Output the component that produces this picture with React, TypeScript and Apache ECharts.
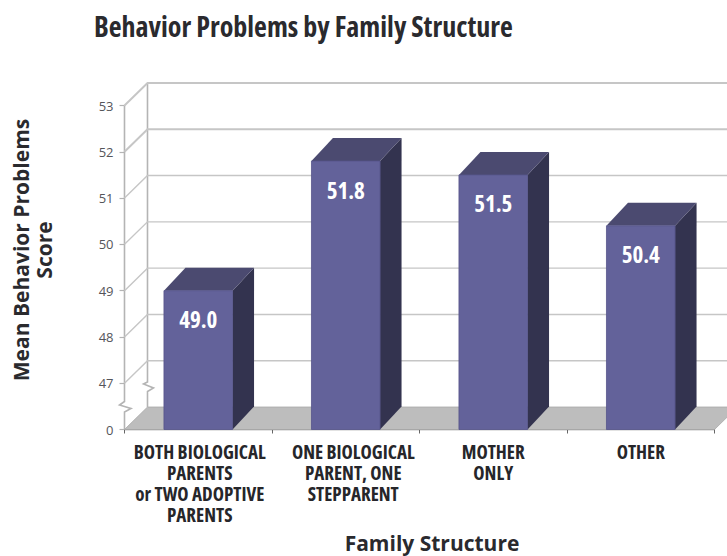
import React, { useEffect, useRef } from "react";
import * as echarts from "echarts";

const titleText = "Behavior Problems by Family Structure";
const yAxisName = "Mean Behavior Problems\nScore";
const xAxisName = "Family Structure";
const categories = [
  "BOTH BIOLOGICAL\nPARENTS\nor TWO ADOPTIVE\nPARENTS",
  "ONE BIOLOGICAL\nPARENT, ONE\nSTEPPARENT",
  "MOTHER\nONLY",
  "OTHER",
];
const categoryShift = [1.5, 7.5, 0, 0];
const barValues = [49.0, 51.8, 51.5, 50.4];
const gridValues = [47, 48, 49, 50, 51, 52, 53];
const axisFloor = 46; // the axis is broken: the floor is labelled 0
const floorLabel = "0";

const NARROW = '"CondensedMark", "Open Sans", sans-serif';
const WALL_DX = 23;
const WALL_DY = 22.5;
const BAR_DX = 21.5;
const BAR_DY = 23;
const GRID_COLOR = "#c6c6c6";

function renderGrid(params: any, api: any) {
  const rect = params.coordSys;
  const y = api.coord([0, api.value(1)])[1];
  const left = rect.x;
  const right = rect.x + rect.width + WALL_DX;
  const isTop = api.value(1) >= 52;
  return {
    type: "group",
    children: [
      {
        type: "polyline",
        shape: { points: [[left, y], [left + WALL_DX, y - WALL_DY], [right, y - WALL_DY]] },
        style: { stroke: GRID_COLOR, lineWidth: isTop ? 2 : 1.4, fill: null },
      },
    ],
  };
}

function renderFrame(params: any, api: any) {
  const rect = params.coordSys;
  const floorY = api.coord([0, axisFloor])[1];
  const topY = api.coord([0, 53])[1];
  const left = rect.x;
  const right = rect.x + rect.width;
  const backX = left + WALL_DX;
  const backY = floorY - WALL_DY;
  return {
    type: "group",
    children: [
      {
        type: "polygon",
        shape: { points: [[left, floorY], [backX, backY], [right + WALL_DX, backY], [right, floorY]] },
        style: { fill: "#bdbdbd", stroke: "#a8a8a8", lineWidth: 0.8 },
      },
      {
        type: "polyline",
        shape: {
          points: [
            [left, topY], [left, floorY - 28], [left - 5, floorY - 24.5],
            [left + 6.5, floorY - 21], [left, floorY - 17.5], [left, floorY],
          ],
        },
        style: { stroke: "#b4b4b4", lineWidth: 1.6, fill: null },
      },
      {
        type: "polyline",
        shape: {
          points: [
            [backX, topY - WALL_DY], [backX, backY - 25], [backX - 4, backY - 23],
            [backX + 6, backY - 19], [backX, backY - 15.5], [backX, backY],
          ],
        },
        style: { stroke: "#b4b4b4", lineWidth: 1.6, fill: null },
      },
    ],
  };
}

function renderBar(params: any, api: any) {
  const top = api.coord([api.value(0), api.value(1)]);
  const base = api.coord([api.value(0), axisFloor]);
  const half = api.size([1, 0])[0] * 0.2325;
  const xl = top[0] - half;
  const xr = top[0] + half;
  return {
    type: "group",
    children: [
      {
        type: "polygon",
        shape: { points: [[xr, top[1]], [xr + BAR_DX, top[1] - BAR_DY], [xr + BAR_DX, base[1] - BAR_DY], [xr, base[1]]] },
        style: { fill: "#33334f" },
      },
      {
        type: "polygon",
        shape: { points: [[xl, top[1]], [xl + BAR_DX, top[1] - BAR_DY], [xr + BAR_DX, top[1] - BAR_DY], [xr, top[1]]] },
        style: { fill: "#4b4a70" },
      },
      {
        type: "rect",
        shape: { x: xl, y: top[1], width: xr - xl, height: base[1] - top[1] },
        style: { fill: "#63629a", stroke: "#55548a", lineWidth: 0.8 },
      },
      {
        type: "text",
        style: {
          text: api.value(1).toFixed(1),
          x: top[0],
          y: top[1] + 28.5,
          fill: "#ffffff",
          align: "center",
          verticalAlign: "middle",
          font: `bold 23px ${NARROW}`,
        },
      },
    ],
  };
}

export default function App() {
  const ref = useRef<HTMLDivElement>(null);
  useEffect(() => {
    const chart = echarts.init(ref.current!, null, { renderer: "svg" });
    chart.setOption({
      animation: false,
      backgroundColor: "#ffffff",
      title: {
        text: titleText,
        left: 89,
        top: 7,
        textStyle: { fontFamily: NARROW, fontWeight: "bold", fontSize: 28, color: "#2a2a2e" },
      },
      grid: { left: 124.5, top: 105.5, right: 12.5, bottom: 126.5, containLabel: false, outerBoundsMode: "none" },
      xAxis: {
        type: "category",
        data: categories.map((value, i) => ({
          value,
          textStyle: { padding: [0, 0, 0, categoryShift[i] * 2] },
        })),
        axisLine: { show: true, lineStyle: { color: "#8a8a8a", width: 1.4 } },
        axisTick: { show: true, alignWithLabel: false, length: 4, lineStyle: { color: "#666666" } },
        axisLabel: {
          interval: 0,
          margin: 12,
          fontFamily: NARROW,
          fontWeight: "bold",
          fontSize: 19,
          lineHeight: 21,
          color: "#26262a",
        },
        name: xAxisName,
        nameLocation: "middle",
        nameGap: 103,
        nameTextStyle: {
          fontFamily: '"Open Sans", sans-serif',
          fontWeight: "bold",
          fontSize: 21,
          color: "#2a2a2e",
          padding: [0, 0, 0, 25],
        },
      },
      yAxis: {
        type: "value",
        min: axisFloor,
        max: 53,
        interval: 1,
        splitLine: { show: false },
        axisLine: { show: false },
        axisTick: { show: true, length: 5, lineStyle: { color: "#b4b4b4", width: 1.2 } },
        axisLabel: {
          margin: 11,
          fontFamily: '"Open Sans", sans-serif',
          fontSize: 13,
          color: "#55555a",
          formatter: (v: number) => (v === axisFloor ? floorLabel : String(v)),
        },
        name: yAxisName,
        nameLocation: "middle",
        nameRotate: 90,
        nameGap: 69,
        nameTextStyle: {
          fontFamily: '"Open Sans", sans-serif',
          fontWeight: "bold",
          fontSize: 21,
          lineHeight: 23,
          color: "#2a2a2e",
          align: "center",
          padding: [0, 0, 0, 35],
        },
      },
      series: [
        {
          type: "custom",
          name: "frame",
          silent: true,
          z: 1,
          renderItem: renderFrame,
          data: [[0, axisFloor]],
        },
        {
          type: "custom",
          name: "grid",
          silent: true,
          z: 2,
          renderItem: renderGrid,
          data: gridValues.map((v) => [0, v]),
        },
        {
          type: "custom",
          name: "Mean Behavior Problems Score",
          z: 3,
          renderItem: renderBar,
          data: barValues.map((v, i) => [i, v]),
        },
      ],
    });
    return () => chart.dispose();
  }, []);
  return (
    <>
      <style>{'svg text[style*="CondensedMark"]{font-stretch:75% !important}'}</style>
      <div
        ref={ref}
        style={{ position: "fixed", left: 0, top: 0, width: 727, height: 556 }}
      />
    </>
  );
}
